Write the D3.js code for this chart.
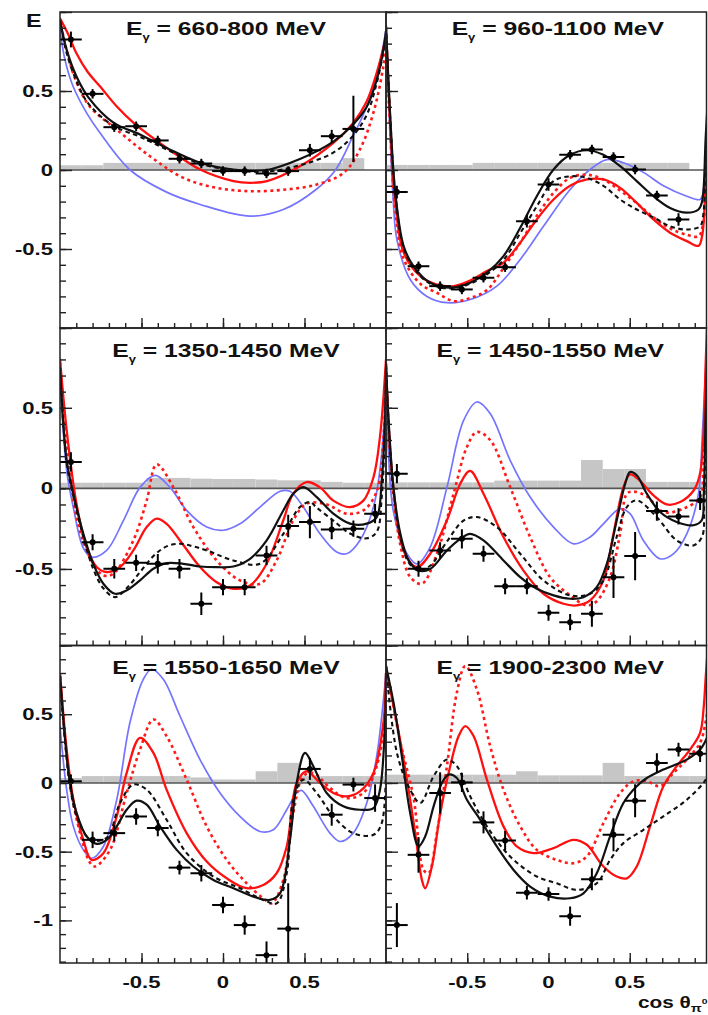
<!DOCTYPE html>
<html>
<head>
<meta charset="utf-8">
<script src="https://cdn.jsdelivr.net/npm/d3@7"></script>
<style>
  body { margin: 0; background: #fff; }
  svg { display: block; }
  text { font-family: "Liberation Sans", Arial, Helvetica, sans-serif; font-weight: bold; fill: #111; }
</style>
</head>
<body>
<svg id="chart" width="708" height="1015"></svg>
<script>
// ---- cos(theta) binning shared by every photon-energy bin ----
const cosBins = [-0.933, -0.8, -0.667, -0.533, -0.4, -0.267, -0.133, 0, 0.133, 0.267, 0.4, 0.533, 0.667, 0.8, 0.933];
const cosHalfWidth = 0.0667;

const energyLabels = ["660-800", "960-1100", "1350-1450", "1450-1550", "1550-1650", "1900-2300"];

const xTickValues = [-0.5, 0, 0.5];
const xTickLabels = ["-0.5", "0", "0.5"];
const yTickValuesUpper = [0.5, 0, -0.5];
const yTickLabelsUpper = ["0.5", "0", "-0.5"];
const yTickValuesLower = [0.5, 0, -0.5, -1];
const yTickLabelsLower = ["0.5", "0", "-0.5", "-1"];

// ---- measured E, statistical error, systematic error (null = no point) ----
const E660   = [0.826, 0.482, 0.271, 0.277, 0.187, 0.071, 0.041, -0.007, -0.007, -0.022, -0.007, 0.125, 0.214, 0.26, null];
const dE660  = [0.05, 0.03, 0.03, 0.03, 0.03, 0.03, 0.03, 0.03, 0.03, 0.03, 0.03, 0.04, 0.04, 0.21, null];
const sys660 = [0.03, 0.03, 0.045, 0.045, 0.045, 0.045, 0.045, 0.045, 0.045, 0.045, 0.045, 0.045, 0.045, 0.075, null];

const E960   = [-0.14, -0.609, -0.735, -0.756, -0.682, -0.615, -0.324, -0.092, 0.096, 0.13, 0.083, 0.003, -0.161, -0.313, null];
const dE960  = [0.04, 0.03, 0.03, 0.03, 0.03, 0.03, 0.04, 0.04, 0.03, 0.03, 0.03, 0.03, 0.03, 0.04, null];
const sys960 = [0.032, 0.032, 0.032, 0.032, 0.045, 0.045, 0.045, 0.045, 0.045, 0.045, 0.045, 0.045, 0.045, 0.045, null];

const E1350   = [0.164, -0.334, -0.499, -0.462, -0.468, -0.499, -0.716, -0.613, -0.613, -0.416, -0.234, -0.209, -0.255, -0.25, -0.157];
const dE1350  = [0.06, 0.05, 0.06, 0.05, 0.06, 0.06, 0.07, 0.05, 0.05, 0.06, 0.07, 0.1, 0.06, 0.05, 0.06];
const sys1350 = [0.035, 0.035, 0.035, 0.035, 0.065, 0.065, 0.06, 0.058, 0.058, 0.055, 0.05, 0.05, 0.04, 0.035, 0.035];

const E1450   = [0.091, -0.499, -0.385, -0.313, -0.406, -0.607, -0.607, -0.772, -0.83, -0.778, -0.551, -0.42, -0.141, -0.174, -0.075];
const dE1450  = [0.06, 0.05, 0.05, 0.06, 0.05, 0.05, 0.05, 0.05, 0.05, 0.08, 0.13, 0.15, 0.06, 0.05, 0.06];
const sys1450 = [0.037, 0.037, 0.037, 0.037, 0.037, 0.048, 0.048, 0.048, 0.048, 0.176, 0.12, 0.12, 0.04, 0.04, 0.04];

const E1550   = [0.012, -0.414, -0.365, -0.244, -0.328, -0.616, -0.657, -0.888, -1.034, -1.253, -1.06, 0.102, -0.231, -0.012, -0.11];
const dE1550  = [0.05, 0.06, 0.06, 0.06, 0.06, 0.05, 0.06, 0.06, 0.07, 0.1, 0.33, 0.08, 0.08, 0.05, 0.1];
const sys1550 = [0.036, 0.05, 0.05, 0.05, 0.05, 0.05, 0.04, 0.025, 0.025, 0.085, 0.146, 0.05, 0.05, 0.05, 0.05];

const E1900   = [-1.034, -0.523, -0.073, 0.004, -0.287, -0.419, -0.798, -0.808, -0.969, -0.70, -0.377, -0.129, 0.146, 0.243, 0.212];
const dE1900  = [0.16, 0.13, 0.15, 0.07, 0.08, 0.07, 0.05, 0.05, 0.07, 0.08, 0.12, 0.12, 0.07, 0.05, 0.06];
const sys1900 = [0.06, 0.06, 0.06, 0.06, 0.06, 0.06, 0.085, 0.055, 0.055, 0.055, 0.146, 0.05, 0.05, 0.05, 0.05];

// ---- model predictions, [cos(theta), E] ----
// black solid: BnGa fit; black dashed: earlier BnGa; red solid: SAID; red dashed: earlier SAID; blue: MAID
const bnga660 = [[-1,0.95],[-0.959,0.76],[-0.898,0.59],[-0.826,0.46],[-0.672,0.3],[-0.509,0.225],[-0.346,0.14],[-0.14,0.046],[0.063,0.003],[0.268,0.0],[0.472,0.07],[0.677,0.18],[0.8,0.29],[0.882,0.4],[0.943,0.57],[0.984,0.76],[1,0.88]];
const bngaOld660 = [[-1,0.95],[-0.959,0.74],[-0.898,0.56],[-0.826,0.42],[-0.672,0.28],[-0.509,0.21],[-0.346,0.13],[-0.14,0.04],[0.063,0.0],[0.268,-0.01],[0.472,0.03],[0.677,0.11],[0.8,0.22],[0.882,0.35],[0.943,0.55],[0.984,0.75],[1,0.86]];
const said660 = [[-1,0.96],[-0.95,0.86],[-0.9,0.74],[-0.83,0.62],[-0.755,0.53],[-0.65,0.4],[-0.55,0.30],[-0.345,0.14],[-0.14,0.003],[0.064,-0.07],[0.166,-0.081],[0.27,-0.07],[0.472,0.024],[0.677,0.172],[0.8,0.3],[0.88,0.43],[0.943,0.615],[1,0.84]];
const saidOld660 = [[-1,0.95],[-0.96,0.76],[-0.9,0.56],[-0.816,0.40],[-0.652,0.256],[-0.448,0.087],[-0.243,-0.05],[-0.039,-0.113],[0.166,-0.134],[0.37,-0.125],[0.575,-0.092],[0.74,-0.018],[0.84,0.13],[0.922,0.36],[0.984,0.657],[1,0.8]];
const maid660 = [[-1,0.89],[-0.97,0.7],[-0.92,0.53],[-0.836,0.36],[-0.755,0.235],[-0.57,0.0],[-0.346,-0.14],[-0.14,-0.218],[0.166,-0.292],[0.37,-0.25],[0.575,-0.12],[0.69,0.0],[0.8,0.22],[0.882,0.4],[0.95,0.62],[1,0.89]];

const bnga960 = [[-1,0.91],[-0.974,0.34],[-0.943,-0.14],[-0.892,-0.48],[-0.83,-0.61],[-0.728,-0.714],[-0.605,-0.745],[-0.482,-0.714],[-0.379,-0.65],[-0.277,-0.545],[-0.174,-0.366],[-0.072,-0.166],[0.031,0.003],[0.133,0.096],[0.236,0.125],[0.338,0.096],[0.441,0.024],[0.543,-0.07],[0.646,-0.166],[0.748,-0.24],[0.851,-0.27],[0.923,-0.25],[0.945,-0.2],[0.968,0.22],[1,0.8]];
const bngaOld960 = [[-1,0.91],[-0.974,0.33],[-0.943,-0.15],[-0.892,-0.49],[-0.83,-0.62],[-0.728,-0.72],[-0.605,-0.75],[-0.482,-0.72],[-0.379,-0.66],[-0.277,-0.57],[-0.174,-0.4],[-0.072,-0.23],[0.031,-0.07],[0.133,-0.04],[0.236,-0.05],[0.338,-0.1],[0.441,-0.187],[0.543,-0.25],[0.646,-0.3],[0.748,-0.356],[0.851,-0.377],[0.933,-0.356],[0.95,-0.3],[0.968,0.0],[1,0.6]];
const said960 = [[-1,0.9],[-0.974,0.3],[-0.943,-0.2],[-0.892,-0.52],[-0.789,-0.672],[-0.687,-0.725],[-0.584,-0.735],[-0.482,-0.70],[-0.379,-0.64],[-0.277,-0.587],[-0.174,-0.46],[-0.072,-0.313],[0.031,-0.187],[0.133,-0.10],[0.236,-0.06],[0.338,-0.06],[0.441,-0.113],[0.543,-0.208],[0.646,-0.313],[0.748,-0.397],[0.851,-0.45],[0.923,-0.48],[0.945,-0.42],[0.968,-0.05],[1,0.6]];
const saidOld960 = [[-1,0.85],[-0.974,0.25],[-0.943,-0.25],[-0.892,-0.56],[-0.789,-0.72],[-0.687,-0.777],[-0.584,-0.83],[-0.482,-0.81],[-0.379,-0.76],[-0.277,-0.62],[-0.174,-0.46],[-0.072,-0.29],[0.031,-0.145],[0.133,-0.05],[0.236,-0.03],[0.338,-0.06],[0.441,-0.13],[0.543,-0.21],[0.646,-0.3],[0.748,-0.37],[0.851,-0.41],[0.923,-0.42],[0.95,-0.35],[0.968,-0.05],[1,0.55]];
const maid960 = [[-1,0.9],[-0.974,0.2],[-0.955,-0.2],[-0.933,-0.44],[-0.851,-0.693],[-0.748,-0.80],[-0.625,-0.84],[-0.482,-0.82],[-0.318,-0.735],[-0.174,-0.566],[-0.031,-0.356],[0.133,-0.123],[0.256,0.003],[0.359,0.066],[0.461,0.046],[0.584,-0.015],[0.707,-0.1],[0.851,-0.166],[0.933,-0.187],[0.95,-0.15],[0.968,0.1],[1,0.7]];

const bnga1350 = [[-1,0.75],[-0.959,0.174],[-0.918,-0.033],[-0.857,-0.281],[-0.796,-0.468],[-0.734,-0.592],[-0.663,-0.654],[-0.591,-0.633],[-0.509,-0.571],[-0.427,-0.499],[-0.346,-0.464],[-0.243,-0.468],[-0.141,-0.485],[-0.039,-0.489],[0.064,-0.485],[0.166,-0.437],[0.268,-0.323],[0.37,-0.137],[0.431,-0.033],[0.493,0.008],[0.575,-0.054],[0.677,-0.157],[0.779,-0.219],[0.882,-0.219],[0.943,-0.178],[0.974,0.05],[0.994,0.42],[1,0.75]];
const bngaOld1350 = [[-1,0.75],[-0.959,0.16],[-0.918,-0.05],[-0.857,-0.3],[-0.796,-0.5],[-0.734,-0.62],[-0.663,-0.675],[-0.591,-0.62],[-0.509,-0.52],[-0.427,-0.42],[-0.346,-0.36],[-0.264,-0.344],[-0.182,-0.36],[-0.1,-0.385],[0.064,-0.447],[0.227,-0.468],[0.37,-0.282],[0.472,-0.116],[0.534,-0.085],[0.575,-0.12],[0.677,-0.2],[0.779,-0.28],[0.882,-0.31],[0.943,-0.27],[0.974,-0.05],[0.994,0.4],[1,0.7]];
const said1350 = [[-1,0.805],[-0.959,0.36],[-0.898,-0.1],[-0.836,-0.37],[-0.775,-0.488],[-0.714,-0.519],[-0.632,-0.488],[-0.55,-0.385],[-0.468,-0.24],[-0.407,-0.188],[-0.346,-0.22],[-0.264,-0.323],[-0.141,-0.488],[-0.039,-0.582],[0.064,-0.623],[0.166,-0.603],[0.268,-0.468],[0.37,-0.198],[0.431,-0.033],[0.513,0.039],[0.595,0.006],[0.677,-0.076],[0.779,-0.116],[0.861,-0.076],[0.923,0.068],[0.963,0.319],[1,0.8]];
const saidOld1350 = [[-1,0.78],[-0.959,0.3],[-0.898,-0.18],[-0.816,-0.43],[-0.734,-0.54],[-0.673,-0.53],[-0.55,-0.323],[-0.468,-0.075],[-0.407,0.149],[-0.305,0.008],[-0.182,-0.24],[-0.039,-0.447],[0.104,-0.571],[0.227,-0.592],[0.329,-0.447],[0.431,-0.198],[0.513,-0.095],[0.636,-0.1],[0.758,-0.157],[0.861,-0.137],[0.943,-0.02],[0.984,0.3],[1,0.75]];
const maid1350 = [[-1,0.7],[-0.959,0.11],[-0.918,-0.12],[-0.857,-0.37],[-0.806,-0.427],[-0.714,-0.385],[-0.611,-0.2],[-0.509,0.006],[-0.417,0.081],[-0.325,0.006],[-0.223,-0.137],[-0.1,-0.24],[0.002,-0.26],[0.104,-0.22],[0.227,-0.116],[0.35,-0.018],[0.411,-0.018],[0.493,-0.116],[0.595,-0.282],[0.697,-0.395],[0.758,-0.406],[0.84,-0.323],[0.923,-0.116],[0.974,0.215],[1,0.73]];

const bnga1450 = [[-1,0.77],[-0.984,0.42],[-0.953,-0.006],[-0.912,-0.28],[-0.861,-0.447],[-0.8,-0.51],[-0.728,-0.5],[-0.625,-0.385],[-0.543,-0.313],[-0.482,-0.282],[-0.4,-0.323],[-0.277,-0.447],[-0.174,-0.551],[-0.072,-0.623],[0.031,-0.664],[0.133,-0.685],[0.215,-0.675],[0.297,-0.613],[0.359,-0.468],[0.42,-0.198],[0.472,0.029],[0.502,0.101],[0.543,0.081],[0.605,-0.033],[0.687,-0.147],[0.789,-0.209],[0.892,-0.229],[0.943,-0.198],[0.955,-0.05],[0.968,0.5],[1,1.5]];
const bngaOld1450 = [[-1,0.77],[-0.984,0.4],[-0.953,-0.03],[-0.912,-0.3],[-0.861,-0.46],[-0.8,-0.51],[-0.728,-0.48],[-0.625,-0.33],[-0.523,-0.2],[-0.441,-0.178],[-0.318,-0.24],[-0.174,-0.406],[-0.031,-0.571],[0.133,-0.664],[0.256,-0.654],[0.338,-0.571],[0.42,-0.30],[0.482,-0.116],[0.543,-0.075],[0.666,-0.178],[0.789,-0.323],[0.892,-0.354],[0.945,-0.3],[0.958,-0.1],[0.968,0.3],[1,1.3]];
const said1450 = [[-1,0.78],[-0.984,0.4],[-0.953,-0.01],[-0.892,-0.385],[-0.81,-0.488],[-0.728,-0.406],[-0.625,-0.198],[-0.543,0.029],[-0.482,0.108],[-0.4,-0.033],[-0.277,-0.302],[-0.154,-0.51],[-0.031,-0.654],[0.092,-0.716],[0.174,-0.726],[0.256,-0.695],[0.338,-0.571],[0.4,-0.28],[0.461,0.006],[0.502,0.087],[0.564,0.046],[0.646,-0.044],[0.728,-0.1],[0.81,-0.085],[0.892,-0.015],[0.93,0.08],[0.952,0.3],[0.968,0.8],[1,1.6]];
const saidOld1450 = [[-1,0.75],[-0.984,0.35],[-0.953,-0.05],[-0.912,-0.35],[-0.851,-0.55],[-0.779,-0.592],[-0.687,-0.406],[-0.584,-0.033],[-0.502,0.257],[-0.441,0.35],[-0.359,0.30],[-0.236,0.008],[-0.113,-0.302],[0.01,-0.551],[0.133,-0.664],[0.236,-0.726],[0.297,-0.7],[0.379,-0.551],[0.441,-0.28],[0.482,-0.033],[0.523,-0.02],[0.605,-0.05],[0.707,-0.147],[0.831,-0.126],[0.933,-0.054],[0.952,0.15],[0.968,0.6],[1,1.4]];
const maid1450 = [[-1,0.7],[-0.984,0.2],[-0.953,-0.15],[-0.871,-0.406],[-0.81,-0.468],[-0.728,-0.364],[-0.625,0.006],[-0.523,0.42],[-0.441,0.536],[-0.359,0.464],[-0.236,0.174],[-0.113,-0.054],[0.031,-0.24],[0.154,-0.344],[0.256,-0.302],[0.338,-0.22],[0.441,-0.126],[0.502,-0.157],[0.584,-0.323],[0.687,-0.437],[0.769,-0.406],[0.851,-0.282],[0.923,-0.033],[0.945,0.3],[0.968,0.75],[1,1.3]];

const bnga1550 = [[-1,0.78],[-0.969,0.32],[-0.939,0.0],[-0.898,-0.219],[-0.836,-0.39],[-0.775,-0.443],[-0.714,-0.414],[-0.652,-0.316],[-0.591,-0.195],[-0.53,-0.129],[-0.468,-0.158],[-0.386,-0.316],[-0.284,-0.487],[-0.182,-0.608],[-0.059,-0.706],[0.064,-0.766],[0.186,-0.827],[0.288,-0.851],[0.35,-0.803],[0.411,-0.414],[0.452,0.0],[0.503,0.219],[0.554,0.122],[0.636,-0.073],[0.738,-0.17],[0.84,-0.195],[0.923,-0.183],[0.963,-0.049],[0.994,0.438],[1,0.8]];
const bngaOld1550 = [[-1,0.78],[-0.969,0.3],[-0.939,-0.02],[-0.898,-0.24],[-0.816,-0.41],[-0.714,-0.4],[-0.632,-0.146],[-0.55,-0.012],[-0.468,-0.049],[-0.346,-0.268],[-0.223,-0.511],[-0.059,-0.681],[0.104,-0.766],[0.247,-0.851],[0.329,-0.876],[0.391,-0.657],[0.431,-0.122],[0.493,0.024],[0.575,-0.073],[0.677,-0.243],[0.799,-0.365],[0.923,-0.377],[0.974,-0.292],[1,0.4]];
const said1550 = [[-1,0.8],[-0.959,0.243],[-0.918,-0.122],[-0.857,-0.414],[-0.806,-0.56],[-0.734,-0.511],[-0.652,-0.243],[-0.591,0.073],[-0.509,0.328],[-0.427,0.219],[-0.346,-0.049],[-0.223,-0.365],[-0.1,-0.572],[0.023,-0.694],[0.145,-0.766],[0.247,-0.742],[0.329,-0.657],[0.391,-0.462],[0.452,0.0],[0.513,0.085],[0.595,0.0],[0.677,-0.073],[0.758,-0.097],[0.84,-0.061],[0.923,0.073],[0.984,0.438],[1,0.8]];
const saidOld1550 = [[-1,0.78],[-0.959,0.2],[-0.918,-0.15],[-0.857,-0.45],[-0.816,-0.58],[-0.785,-0.608],[-0.693,-0.487],[-0.591,-0.073],[-0.509,0.243],[-0.427,0.462],[-0.346,0.34],[-0.223,0.024],[-0.1,-0.316],[0.023,-0.56],[0.145,-0.73],[0.247,-0.84],[0.299,-0.876],[0.37,-0.706],[0.431,-0.219],[0.493,0.049],[0.554,0.073],[0.656,-0.036],[0.758,-0.11],[0.861,-0.073],[0.943,0.122],[0.994,0.5],[1,0.75]];
const maid1550 = [[-1,0.413],[-0.959,-0.05],[-0.918,-0.316],[-0.857,-0.487],[-0.806,-0.548],[-0.734,-0.462],[-0.652,-0.122],[-0.571,0.438],[-0.489,0.754],[-0.438,0.827],[-0.366,0.754],[-0.264,0.487],[-0.141,0.17],[-0.018,-0.073],[0.104,-0.243],[0.227,-0.353],[0.309,-0.341],[0.391,-0.195],[0.452,-0.073],[0.482,-0.054],[0.554,-0.17],[0.656,-0.365],[0.718,-0.426],[0.799,-0.365],[0.882,-0.146],[0.943,0.195],[1,0.8]];

const bnga1900 = [[-1,0.85],[-0.953,0.58],[-0.902,0.19],[-0.851,-0.22],[-0.8,-0.46],[-0.759,-0.39],[-0.707,-0.17],[-0.656,0.0],[-0.615,0.061],[-0.564,0.036],[-0.502,-0.122],[-0.42,-0.268],[-0.318,-0.462],[-0.215,-0.633],[-0.113,-0.754],[0.01,-0.827],[0.133,-0.839],[0.215,-0.803],[0.297,-0.657],[0.379,-0.389],[0.461,-0.146],[0.543,-0.024],[0.605,0.036],[0.707,0.097],[0.851,0.17],[0.933,0.243],[0.968,0.31],[1,0.4]];
const bngaOld1900 = [[-1,0.85],[-0.933,0.22],[-0.851,-0.05],[-0.789,-0.146],[-0.707,0.049],[-0.625,0.17],[-0.564,0.122],[-0.482,-0.097],[-0.379,-0.316],[-0.236,-0.535],[-0.072,-0.681],[0.051,-0.73],[0.174,-0.778],[0.297,-0.73],[0.379,-0.56],[0.461,-0.438],[0.584,-0.341],[0.707,-0.243],[0.851,-0.122],[0.968,0.024],[1,0.12]];
const said1900 = [[-1,0.826],[-0.933,0.438],[-0.871,0.024],[-0.82,-0.365],[-0.779,-0.706],[-0.759,-0.766],[-0.718,-0.608],[-0.666,-0.219],[-0.605,0.122],[-0.553,0.341],[-0.512,0.414],[-0.461,0.341],[-0.379,0.024],[-0.277,-0.316],[-0.195,-0.462],[-0.092,-0.511],[0.031,-0.474],[0.154,-0.414],[0.236,-0.45],[0.338,-0.608],[0.42,-0.681],[0.482,-0.694],[0.543,-0.608],[0.625,-0.316],[0.707,-0.024],[0.789,0.122],[0.871,0.243],[0.933,0.365],[0.955,0.55],[0.968,0.78],[1,1.3]];
const saidOld1900 = [[-1,0.85],[-0.912,0.3],[-0.83,-0.11],[-0.769,-0.633],[-0.738,-0.657],[-0.687,-0.365],[-0.625,0.122],[-0.564,0.657],[-0.512,0.852],[-0.441,0.681],[-0.359,0.268],[-0.277,-0.049],[-0.174,-0.316],[-0.072,-0.487],[0.051,-0.56],[0.154,-0.584],[0.236,-0.535],[0.338,-0.292],[0.441,-0.073],[0.523,0.012],[0.605,0.012],[0.687,-0.024],[0.769,0.073],[0.851,0.17],[0.933,0.292],[0.968,0.45],[1,0.7]];

// ---- layout ----
const colRange = [[60, 386], [386, 711]];   // x-scale ranges for cos(theta) in [-1, 1]
const colFrameRight = [386, 706.5];
const rowRange = [[12, 328], [328, 645.5], [645.5, 963]];
const rowDomain = [[-1, 1], [-0.975, 0.995], [-1.31, 1.0]];
const SX = 1.3; // horizontal stretch of the lettering

const svg = d3.select("#chart");
const defs = svg.append("defs");

// table consumed by the drawing loop
const panels = [
  { label: energyLabels[0], E: E660,  dE: dE660,  sys: sys660,  curves: [maid660, saidOld660, said660, bngaOld660, bnga660] },
  { label: energyLabels[1], E: E960,  dE: dE960,  sys: sys960,  curves: [maid960, saidOld960, said960, bngaOld960, bnga960] },
  { label: energyLabels[2], E: E1350, dE: dE1350, sys: sys1350, curves: [maid1350, saidOld1350, said1350, bngaOld1350, bnga1350] },
  { label: energyLabels[3], E: E1450, dE: dE1450, sys: sys1450, curves: [maid1450, saidOld1450, said1450, bngaOld1450, bnga1450] },
  { label: energyLabels[4], E: E1550, dE: dE1550, sys: sys1550, curves: [maid1550, saidOld1550, said1550, bngaOld1550, bnga1550] },
  { label: energyLabels[5], E: E1900, dE: dE1900, sys: sys1900, curves: [null, saidOld1900, said1900, bngaOld1900, bnga1900] }
];

const curveStyles = [
  { stroke: "#7474ff", width: 1.7, dash: null },
  { stroke: "#ff1a1a", width: 2.6, dash: "3,3.5" },
  { stroke: "#ff1010", width: 2.3, dash: null },
  { stroke: "#111", width: 2.1, dash: "4.5,3.5" },
  { stroke: "#111", width: 2.2, dash: null }
];

function stretchedText(parent, x, y, anchor, size) {
  return parent.append("text")
    .attr("transform", `translate(${x},${y}) scale(${SX},1)`)
    .attr("text-anchor", anchor)
    .attr("font-size", size);
}

function tickRange(lo, hi, step) {
  const out = [];
  for (let k = Math.ceil(lo / step - 1e-9); k <= Math.floor(hi / step + 1e-9); k++) out.push(+(k * step).toFixed(3));
  return out;
}

panels.forEach((p, i) => {
  const col = i % 2, row = Math.floor(i / 2);
  const x = d3.scaleLinear().domain([-1, 1]).range(colRange[col]);
  const y = d3.scaleLinear().domain(rowDomain[row]).range([rowRange[row][1], rowRange[row][0]]);
  const left = colRange[col][0], right = colFrameRight[col];
  const top = rowRange[row][0], bottom = rowRange[row][1];

  defs.append("clipPath").attr("id", "clip" + i)
    .append("rect").attr("x", left).attr("y", top).attr("width", right - left).attr("height", bottom - top);

  const g = svg.append("g").attr("clip-path", `url(#clip${i})`);

  const pts = cosBins.map((c, k) => ({ c, E: p.E[k], dE: p.dE[k], sys: p.sys[k] })).filter(d => d.E != null);

  // systematic uncertainty band
  g.selectAll("rect.sys").data(pts).join("rect")
    .attr("class", "sys")
    .attr("x", d => x(d.c - cosHalfWidth))
    .attr("width", d => x(d.c + cosHalfWidth) - x(d.c - cosHalfWidth))
    .attr("y", d => y(d.sys))
    .attr("height", d => y(0) - y(d.sys))
    .attr("fill", "#c6c6c6");

  // zero line
  g.append("line").attr("x1", left).attr("x2", right).attr("y1", y(0)).attr("y2", y(0))
    .attr("stroke", "#555").attr("stroke-width", 1.6);

  // model curves
  const line = d3.line().x(d => x(d[0])).y(d => y(d[1])).curve(d3.curveCatmullRom.alpha(0.5));
  p.curves.forEach((c, k) => {
    if (!c) return;
    const s = curveStyles[k];
    g.append("path").datum(c).attr("d", line)
      .attr("fill", "none").attr("stroke", s.stroke).attr("stroke-width", s.width)
      .attr("stroke-dasharray", s.dash).attr("stroke-linejoin", "round");
  });

  // data points with error bars
  const pg = g.append("g").attr("stroke", "#000").attr("stroke-width", 2);
  pg.selectAll("line.h").data(pts).join("line").attr("class", "h")
    .attr("x1", d => x(d.c - cosHalfWidth)).attr("x2", d => x(d.c + cosHalfWidth))
    .attr("y1", d => y(d.E)).attr("y2", d => y(d.E));
  pg.selectAll("line.v").data(pts).join("line").attr("class", "v")
    .attr("x1", d => x(d.c)).attr("x2", d => x(d.c))
    .attr("y1", d => y(d.E - d.dE)).attr("y2", d => y(d.E + d.dE));
  g.selectAll("circle.pt").data(pts).join("circle").attr("class", "pt")
    .attr("cx", d => x(d.c)).attr("cy", d => y(d.E)).attr("r", 3).attr("fill", "#000");

  // ticks: y on the left edge pointing in, x on the bottom edge pointing up
  const yd = rowDomain[row];
  const yMinor = d3.axisRight(y).tickValues(tickRange(yd[0], yd[1], 0.1)).tickSize(6).tickFormat("");
  const yMajor = d3.axisRight(y).tickValues(tickRange(yd[0], yd[1], 0.5)).tickSize(12).tickFormat("");
  [yMinor, yMajor].forEach(ax => {
    const a = svg.append("g").attr("transform", `translate(${left},0)`).call(ax);
    a.select(".domain").remove();
    a.selectAll("line").attr("stroke", "#222").attr("stroke-width", 1.4);
  });
  const xMinor = d3.axisTop(x).tickValues(tickRange(-0.95, 0.95, 0.1)).tickSize(5).tickFormat("");
  const xMajor = d3.axisTop(x).tickValues(xTickValues).tickSize(10).tickFormat("");
  [xMinor, xMajor].forEach(ax => {
    const a = svg.append("g").attr("transform", `translate(0,${bottom})`).call(ax);
    a.select(".domain").remove();
    a.selectAll("line").attr("stroke", "#222").attr("stroke-width", 1.4);
  });

  // frame
  svg.append("rect").attr("x", left).attr("y", top).attr("width", right - left).attr("height", bottom - top)
    .attr("fill", "none").attr("stroke", "#222").attr("stroke-width", 1.5);

  // energy-bin title
  const titleBase = [35, 357, 674][row];
  const t = col === 0 ? stretchedText(svg, 226, titleBase, "middle", 19) : stretchedText(svg, 664, titleBase, "end", 19);
  t.append("tspan").text("E");
  t.append("tspan").attr("font-size", 10).attr("dy", 6).text("γ");
  t.append("tspan").attr("dy", -6).text(" = " + p.label + " MeV");

  // y tick labels on the left column
  if (col === 0) {
    const vals = row === 2 ? yTickValuesLower : yTickValuesUpper;
    const labs = row === 2 ? yTickLabelsLower : yTickLabelsUpper;
    vals.forEach((v, k) => {
      stretchedText(svg, 53, y(v) + 6, "end", 17).text(labs[k]);
    });
  }
  // x tick labels on the bottom row
  if (row === 2) {
    xTickValues.forEach((v, k) => {
      stretchedText(svg, x(v), 988, "middle", 17).text(xTickLabels[k]);
    });
  }
});

// axis titles
stretchedText(svg, 26, 27, "start", 18).text("E");
const xt = stretchedText(svg, 638, 1008, "start", 16);
xt.append("tspan").text("cos θ");
xt.append("tspan").attr("font-size", 11).attr("dy", 4).text("π");
xt.append("tspan").attr("font-size", 8).attr("dy", -8).text("0");
</script>
</body>
</html>
